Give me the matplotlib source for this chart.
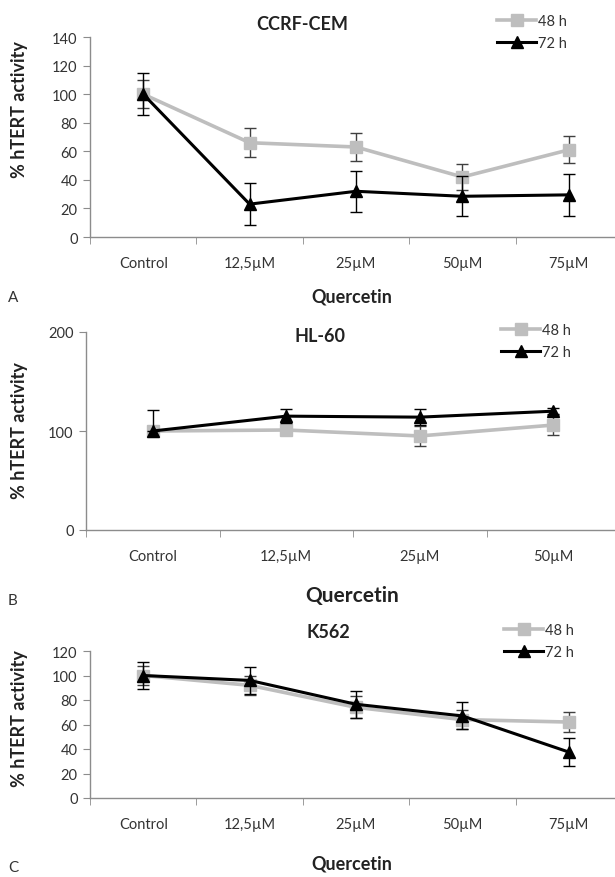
import matplotlib
matplotlib.use('Agg')
import matplotlib.pyplot as plt
from matplotlib.ticker import FixedLocator
from matplotlib.lines import Line2D

plt.rcParams['font.family'] = ['Lato', 'DejaVu Sans']

# datos de los tres paneles
cats_a = ['Control', '12,5µM', '25µM', '50µM', '75µM']
a_48 = [100, 66, 63, 42, 61]
a_48_err = [10, 10, 9.5, 9, 9.5]
a_72 = [100, 23, 32, 28.5, 29.5]
a_72_err = [14.5, 14.5, 14.5, 14, 14.5]

cats_b = ['Control', '12,5µM', '25µM', '50µM']
b_48 = [100, 101, 95, 106]
b_48_err = [5, 3, 10, 10]
b_72 = [100, 115, 114, 120]
b_72_err_lo = [0, 7, 8, 3]
b_72_err_hi = [21, 7, 8, 3]

cats_c = ['Control', '12,5µM', '25µM', '50µM', '75µM']
c_48 = [100, 92, 74, 64, 62]
c_48_err = [8, 8, 9, 8, 8]
c_72 = [100, 96, 76.5, 67, 37.5]
c_72_err = [11, 11, 11, 11, 11.5]

W, H = 615, 878
fig = plt.figure(figsize=(W / 100, H / 100), dpi=100)

GRIS = '#BEBEBE'
EJE = '#8C8C8C'
TXT = '#333333'


def panel(left, right, top, bottom, cats, s48, e48, s72, e72, ymax, yticks,
          titulo, tx, ty, leg_x, leg_y, qy, qsize, letra, ly, ylab_y):
    ax = fig.add_axes([left / W, 1 - bottom / H, (right - left) / W, (bottom - top) / H])
    x = list(range(len(cats)))
    ax.errorbar(x, s48, yerr=e48, color=GRIS, lw=2.6, marker='s', ms=9,
                mec=GRIS, mfc=GRIS, ecolor='#404040', elinewidth=1, capsize=4,
                capthick=1, zorder=3)
    ax.errorbar(x, s72, yerr=e72, color='black', lw=2.2, marker='^', ms=9,
                mec='black', mfc='black', ecolor='black', elinewidth=1, capsize=4,
                capthick=1, zorder=4)
    ax.set_xlim(-0.5, len(cats) - 0.5)
    ax.set_ylim(0, ymax)
    ax.set_yticks(yticks)
    ax.set_xticks(x)
    ax.set_xticklabels(cats)
    ax.xaxis.set_minor_locator(FixedLocator([i + 0.5 for i in range(-1, len(cats))]))
    ax.tick_params(axis='x', which='major', length=0, pad=14, labelsize=10.5, labelcolor=TXT)
    ax.tick_params(axis='x', which='minor', length=5, color=EJE, direction='out')
    ax.tick_params(axis='y', length=5, color=EJE, labelsize=10.5, labelcolor=TXT, pad=4)
    for s in ['top', 'right']:
        ax.spines[s].set_visible(False)
    for s in ['left', 'bottom']:
        ax.spines[s].set_color(EJE)
        ax.spines[s].set_linewidth(1)
    fig.text(tx / W, 1 - ty / H, titulo, ha='center', va='center',
             fontsize=13, fontweight='bold', color='#222222')
    h48 = Line2D([], [], color=GRIS, lw=2.6, marker='s', ms=8, mec=GRIS, mfc=GRIS)
    h72 = Line2D([], [], color='black', lw=2.2, marker='^', ms=8, mec='black', mfc='black')
    ax.legend([h48, h72], ['48 h', '72 h'], loc='upper left',
              bbox_to_anchor=(leg_x / W, 1 - leg_y / H), bbox_transform=fig.transFigure,
              frameon=False, fontsize=10.5, handlelength=2.7, handletextpad=0.1,
              borderpad=0, borderaxespad=0, labelspacing=0.55, numpoints=1,
              labelcolor=TXT)
    fig.text(352 / W, 1 - qy / H, 'Quercetin', ha='center', va='center',
             fontsize=qsize, fontweight='bold', color='#222222')
    fig.text(8 / W, 1 - ly / H, letra, ha='left', va='center', fontsize=11, color=TXT)
    fig.text(20 / W, 1 - ylab_y / H, '% hTERT activity', ha='center', va='center',
             rotation=90, fontsize=13, fontweight='bold', color='#222222')
    return ax


panel(90, 622, 38, 238, cats_a, a_48, a_48_err, a_72, a_72_err, 140,
      [0, 20, 40, 60, 80, 100, 120, 140], 'CCRF-CEM', 302, 25, 497, 15,
      297, 13, 'A', 298, 110)

panel(86, 620, 333, 531, cats_b, b_48, b_48_err, b_72, [b_72_err_lo, b_72_err_hi], 200,
      [0, 100, 200], 'HL-60', 320, 336, 501, 324,
      596, 15, 'B', 601, 431)

panel(90, 622, 652, 799, cats_c, c_48, c_48_err, c_72, c_72_err, 120,
      [0, 20, 40, 60, 80, 100, 120], 'K562', 328, 633, 504, 624,
      864, 13, 'C', 868, 719)

fig.savefig('out.png', dpi=100)
